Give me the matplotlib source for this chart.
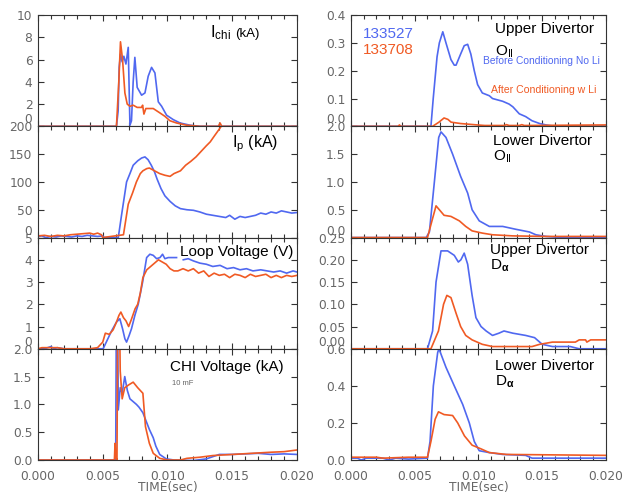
import matplotlib
matplotlib.use("Agg")
import matplotlib.pyplot as plt
from matplotlib.ticker import MultipleLocator
import numpy as np

plt.rcParams['font.family'] = ['Liberation Sans', 'DejaVu Sans']
plt.rcParams['mathtext.fontset'] = 'custom'
plt.rcParams['mathtext.rm'] = 'Liberation Sans'
plt.rcParams['mathtext.it'] = 'Liberation Sans'
plt.rcParams['mathtext.bf'] = 'Liberation Sans:bold'

BLUE = '#5068f0'
ORANGE = '#f05a24'
TICKC = '#666666'

# ---------------- data (time in ms) ----------------
ichi_b_t = [0, 6.06, 6.19, 6.27, 6.37, 6.5, 6.63, 6.79, 6.97, 7.10, 7.22, 7.35, 7.48, 7.66, 8.0, 8.26, 8.51, 8.77, 9.03, 9.29, 9.55, 9.93, 10.45, 10.97, 11.74, 12.5, 20]
ichi_b_v = [0, 0, 1.4, 5.3, 6.5, 5.8, 6.3, 5.6, 7.1, 0.1, 0.5, 4.0, 6.2, 3.5, 2.8, 3.0, 4.5, 5.3, 4.8, 2.2, 1.8, 1.0, 0.6, 0.3, 0.1, 0, 0]
ichi_o_t = [0, 6.06, 6.24, 6.37, 6.53, 6.71, 6.89, 7.1, 7.35, 7.66, 8.0, 8.08, 8.18, 8.33, 8.9, 9.42, 9.8, 10.19, 10.7, 11.48, 12.5, 13.93, 14.06, 14.19, 20]
ichi_o_v = [0, 0, 4.0, 7.6, 6.0, 3.0, 2.0, 1.8, 1.9, 1.7, 1.7, 1.9, 1.1, 1.6, 1.6, 1.2, 0.9, 0.5, 0.3, 0.1, 0, 0, 0.3, 0, 0]

ip_b_t = [0, 0.3, 0.6, 1.0, 1.4, 1.8, 2.2, 2.6, 3.0, 3.4, 3.8, 4.2, 4.6, 5.0, 5.1, 6.2, 6.45, 6.84, 7.1, 7.35, 7.7, 8.0, 8.26, 8.5, 8.75, 9.0, 9.2, 9.5, 9.8, 10.2, 10.6, 11.0, 11.5, 12.0, 12.5, 13.0, 13.5, 14.0, 14.5, 14.8, 15.2, 15.6, 16.0, 16.4, 16.8, 17.2, 17.6, 18.0, 18.4, 18.8, 19.2, 19.6, 20.0]
ip_b_v = [2, 3, 0, 2, 1, 3, 2, 1, 3, 2, 4, 3, 2, 3, 0, 0, 40, 100, 115, 130, 138, 143, 145, 140, 130, 118, 105, 88, 75, 65, 57, 52, 50, 49, 46, 42, 40, 38, 36, 40, 33, 38, 36, 38, 40, 44, 42, 46, 44, 48, 46, 44, 45]
ip_o_t = [0, 0.5, 1.0, 1.5, 2.0, 2.5, 3.0, 3.5, 4.0, 4.3, 4.6, 4.9, 5.0, 6.6, 6.97, 7.3, 7.6, 7.9, 8.1, 8.4, 8.6, 9.0, 9.4, 9.8, 10.2, 10.5, 11.0, 11.4, 11.8, 12.2, 12.6, 13.0, 13.3, 13.6, 14.0, 14.3, 15.0]
ip_o_v = [3, 4, 2, 4, 3, 5, 6, 7, 8, 6, 8, 5, 0, 5, 60, 80, 100, 115, 120, 124, 125, 120, 115, 112, 110, 115, 120, 130, 137, 145, 155, 165, 172, 182, 195, 205, 220]

lv_b_t = [0, 0.5, 1.0, 1.2, 1.5, 2.0, 4.9, 5.03, 5.68, 6.06, 6.32, 6.53, 6.71, 6.84, 7.04, 7.22, 7.48, 7.74, 8.08, 8.39, 8.64, 8.9, 9.16, 9.42, 9.62, 9.8, 10.06, 10.7, 10.8, 11.22, 11.6, 12.0, 12.5, 13.0, 13.5, 14.06, 14.6, 15.1, 15.6, 16.1, 16.6, 17.2, 17.7, 18.2, 18.7, 19.2, 19.7, 20.0]
lv_b_v = [0, 0, 0.1, 0, 0.05, 0, 0, 0, 0.8, 1.2, 1.35, 0.9, 0.45, 0.3, 0.6, 0.9, 1.5, 2.0, 3.0, 4.1, 4.25, 4.2, 4.05, 4.1, 4.25, 4.05, 4.1, 4.1, np.nan, 4.0, 4.05, 3.95, 3.85, 3.8, 3.7, 3.75, 3.6, 3.65, 3.55, 3.6, 3.5, 3.55, 3.5, 3.45, 3.5, 3.4, 3.5, 3.45]
lv_o_t = [0, 0.3, 1.5, 2.0, 4.0, 4.6, 5.0, 5.2, 5.5, 5.8, 6.06, 6.25, 6.4, 6.6, 6.8, 7.0, 7.2, 7.5, 7.7, 7.9, 8.1, 8.4, 8.7, 9.0, 9.3, 9.6, 9.9, 10.2, 10.5, 10.8, 11.2, 11.6, 12.0, 12.4, 12.8, 13.2, 13.6, 14.0, 14.4, 14.8, 15.2, 15.6, 16.0, 16.4, 16.8, 17.2, 17.6, 18.0, 18.4, 18.8, 19.2, 19.6, 20.0]
lv_o_v = [0, 0.05, 0.05, 0, 0, 0.05, 0.3, 0.7, 0.65, 0.85, 1.2, 1.5, 1.65, 1.4, 1.25, 1.0, 1.3, 1.8, 2.0, 2.5, 3.2, 3.55, 3.7, 3.85, 4.0, 3.9, 3.8, 3.6, 3.5, 3.5, 3.6, 3.5, 3.6, 3.4, 3.5, 3.25, 3.4, 3.3, 3.35, 3.2, 3.35, 3.3, 3.2, 3.35, 3.25, 3.3, 3.35, 3.2, 3.3, 3.2, 3.3, 3.25, 3.3]

chi_b_t = [0, 6.0, 6.05, 6.15, 6.2, 6.35, 6.5, 6.7, 6.9, 7.1, 7.35, 7.6, 7.8, 8.1, 8.35, 8.6, 8.9, 9.1, 9.4, 9.9, 10.5, 12.0, 13.0, 13.5, 14.0, 15.0, 16.0, 17.0, 18.0, 19.0, 20.0]
chi_b_v = [0, 0, 2.5, 2.5, 0.9, 1.3, 1.2, 1.5, 1.25, 1.1, 1.05, 1.0, 0.95, 0.85, 0.7, 0.55, 0.4, 0.25, 0.1, 0.02, 0, -0.01, 0.02, 0.06, 0.1, 0.1, 0.11, 0.12, 0.1, 0.11, 0.1]
chi_o_t = [0, 5.9, 5.95, 6.0, 6.1, 6.15, 6.3, 6.35, 6.5, 6.7, 7.0, 7.35, 7.7, 8.1, 8.3, 8.6, 8.9, 9.4, 10.0, 11.0, 11.5, 12.5, 13.5, 15.0, 16.5, 18.0, 19.0, 20.0]
chi_o_v = [0, 0, 0.3, 0.05, 0, 2.5, 2.5, 1.6, 1.1, 1.3, 1.35, 1.4, 1.3, 1.2, 0.6, 0.3, 0.12, 0.03, 0, 0, 0.03, 0.05, 0.08, 0.1, 0.12, 0.14, 0.15, 0.18]

uo_b_t = [0, 6.27, 6.45, 6.75, 6.93, 7.2, 7.45, 7.84, 8.1, 8.24, 8.6, 8.88, 9.15, 9.4, 9.67, 9.93, 10.3, 10.85, 11.1, 11.9, 12.4, 12.7, 13.2, 13.7, 14.2, 14.8, 15.3, 16.0, 20.0]
uo_b_v = [0, 0, 0.1, 0.25, 0.3, 0.34, 0.3, 0.24, 0.22, 0.22, 0.26, 0.29, 0.295, 0.26, 0.2, 0.15, 0.12, 0.11, 0.1, 0.09, 0.08, 0.07, 0.045, 0.035, 0.02, 0.01, 0.005, 0, 0]
uo_o_t = [0, 3.7, 3.8, 3.9, 6.4, 6.9, 7.3, 7.6, 7.85, 8.6, 9.9, 10.5, 12.0, 12.2, 12.4, 13.2, 13.4, 13.6, 20.0]
uo_o_v = [0, 0, 0.005, 0, 0, 0.015, 0.03, 0.025, 0.015, 0.01, 0.005, 0.003, 0.003, 0.006, 0.003, 0.003, 0.006, 0.003, 0.005]

lo_b_t = [0, 5.9, 6.15, 6.54, 6.88, 7.06, 7.45, 7.97, 8.6, 9.15, 9.5, 10.06, 10.85, 11.9, 12.9, 14.0, 14.5, 15.3, 16.6, 20.0]
lo_b_v = [0, 0, 0.1, 1.0, 1.8, 1.9, 1.8, 1.5, 1.1, 0.8, 0.5, 0.3, 0.2, 0.2, 0.15, 0.1, 0.05, 0.02, 0, 0]
lo_o_t = [0, 6.0, 6.35, 6.67, 6.93, 7.3, 7.84, 8.5, 9.0, 9.5, 10.3, 11.1, 12.7, 15.3, 20.0]
lo_o_v = [0, 0, 0.3, 0.57, 0.5, 0.4, 0.38, 0.3, 0.2, 0.12, 0.08, 0.05, 0.03, 0.02, 0.02]

ud_b_t = [0, 6.0, 6.4, 6.67, 7.06, 7.58, 8.1, 8.42, 8.62, 8.88, 9.15, 9.5, 9.8, 10.2, 10.6, 11.1, 11.6, 12.0, 12.7, 13.7, 14.4, 15.0, 15.8, 17.2, 17.9, 20.0]
ud_b_v = [0, 0, 0.04, 0.15, 0.22, 0.22, 0.21, 0.195, 0.2, 0.215, 0.19, 0.12, 0.07, 0.05, 0.04, 0.03, 0.035, 0.04, 0.035, 0.03, 0.025, 0.01, 0.005, 0.005, 0, 0]
ud_o_t = [0, 6.27, 6.86, 7.26, 7.52, 7.84, 8.24, 8.6, 9.0, 9.5, 10.3, 11.1, 14.2, 14.8, 15.8, 17.6, 17.9, 18.4, 18.5, 18.8, 20.0]
ud_o_v = [0, 0, 0.04, 0.1, 0.12, 0.115, 0.08, 0.05, 0.03, 0.02, 0.01, 0.005, 0.005, 0.01, 0.015, 0.015, 0.02, 0.02, 0.015, 0.02, 0.02]

ld_b_t = [0, 0.5, 0.8, 1.2, 2.5, 3.0, 3.5, 4.5, 6.0, 6.2, 6.46, 6.8, 6.9, 7.45, 8.1, 8.76, 9.28, 9.67, 10.06, 10.85, 11.9, 13.7, 14.2, 20.0]
ld_b_v = [0.01, 0.01, 0.0, 0.01, 0.01, 0.0, 0.01, 0.005, 0.01, 0.1, 0.4, 0.58, 0.6, 0.5, 0.4, 0.3, 0.2, 0.1, 0.05, 0.04, 0.03, 0.025, 0.01, 0.01]
ld_o_t = [0, 2.0, 2.5, 4.5, 6.0, 6.27, 6.6, 6.86, 7.3, 7.97, 8.37, 8.9, 9.5, 10.2, 10.85, 12.2, 20.0]
ld_o_v = [0.015, 0.015, 0.01, 0.015, 0.015, 0.1, 0.22, 0.26, 0.245, 0.24, 0.2, 0.13, 0.08, 0.06, 0.04, 0.03, 0.025]

xticks = [0.000, 0.005, 0.010, 0.015, 0.020]

fig = plt.figure(figsize=(6.26, 4.95), dpi=100)

H = 0.2247
B0 = 0.0707
lefts = [(0.0607, 0.4137), (0.5607, 0.4073)]

def ms(t):
    return np.asarray(t) * 1e-3

panels = [
    (0, 0, 10, 2, '%d', (ichi_b_t, ichi_b_v), (ichi_o_t, ichi_o_v)),
    (0, 1, 200, 50, '%d', (ip_b_t, ip_b_v), (ip_o_t, ip_o_v)),
    (0, 2, 5, 1, '%d', (lv_b_t, lv_b_v), (lv_o_t, lv_o_v)),
    (0, 3, 2.0, 0.5, '%.1f', (chi_b_t, chi_b_v), (chi_o_t, chi_o_v)),
    (1, 0, 0.4, 0.1, '%.1f', (uo_b_t, uo_b_v), (uo_o_t, uo_o_v)),
    (1, 1, 2.0, 0.5, '%.1f', (lo_b_t, lo_b_v), (lo_o_t, lo_o_v)),
    (1, 2, 0.25, 0.05, '%.2f', (ud_b_t, ud_b_v), (ud_o_t, ud_o_v)),
    (1, 3, 0.6, 0.2, '%.1f', (ld_b_t, ld_b_v), (ld_o_t, ld_o_v)),
]

TICKFONT = dict(family='DejaVu Sans', size=8.8)

axes = {}
for col, row, ymax, ymaj, fmt, blue, orange in panels:
    l, w = lefts[col]
    b = B0 + (3 - row) * H
    ax = fig.add_axes([l, b, w, H])
    axes[(col, row)] = ax
    ax.plot(ms(blue[0]), blue[1], color=BLUE, lw=1.2)
    ax.plot(ms(orange[0]), orange[1], color=ORANGE, lw=1.2)
    ax.set_xlim(0, 0.020)
    ax.set_ylim(0, ymax)
    yt = np.round(np.arange(0, ymax + ymaj / 2, ymaj), 6)
    ax.set_yticks(yt)
    ax.set_yticklabels([fmt % v for v in yt], **TICKFONT)
    ax.set_xticks(xticks)
    ax.xaxis.set_minor_locator(MultipleLocator(0.001))
    ax.tick_params(axis='both', which='both', direction='in', top=True, right=True,
                   colors='#333333', labelcolor=TICKC)
    ax.tick_params(axis='both', which='major', length=4, width=0.8)
    ax.tick_params(axis='both', which='minor', length=3, width=0.8)
    ax.tick_params(axis='y', pad=4)
    ax.tick_params(axis='x', pad=7)
    for s in ax.spines.values():
        s.set_color('#333333')
        s.set_linewidth(0.8)
    if row == 3:
        ax.set_xticklabels(['%.3f' % v for v in xticks], **TICKFONT)
        ax.set_xlabel('TIME(sec)', color=TICKC, fontsize=8.8, family='DejaVu Sans', labelpad=-1)
    else:
        ax.tick_params(axis='x', labelbottom=False)
        ax.yaxis.get_major_ticks()[0].label1.set_verticalalignment('bottom')

TS = 11
a = axes[(0, 0)]
a.text(0.664, 0.80, r'I$_{\mathrm{chi}}$', transform=a.transAxes, fontsize=12, va='baseline', ha='left')
a.text(0.76, 0.80, '(kA)', transform=a.transAxes, fontsize=9.5, va='baseline', ha='left')
a = axes[(0, 1)]
a.text(0.75, 0.815, r'I$_{\mathrm{p}}$ (kA)', transform=a.transAxes, fontsize=11.5, va='baseline', ha='left')
a = axes[(0, 2)]
a.text(0.548, 0.833, 'Loop Voltage (V)', transform=a.transAxes, fontsize=TS, va='baseline', ha='left')
a = axes[(0, 3)]
a.text(0.51, 0.80, 'CHI Voltage (kA)', transform=a.transAxes, fontsize=TS, va='baseline', ha='left')
a.text(0.517, 0.675, '10 mF', transform=a.transAxes, fontsize=5.5, color='#666666', va='baseline', ha='left')

a = axes[(1, 0)]
a.text(0.565, 0.838, 'Upper Divertor', transform=a.transAxes, fontsize=TS, va='baseline', ha='left')
a.text(0.565, 0.64, r'O$_{\mathrm{II}}$', transform=a.transAxes, fontsize=TS, va='baseline', ha='left')
a.text(0.047, 0.79, '133527', transform=a.transAxes, fontsize=11, color=BLUE, va='baseline', ha='left')
a.text(0.047, 0.65, '133708', transform=a.transAxes, fontsize=11, color=ORANGE, va='baseline', ha='left')
a.text(0.518, 0.56, 'Before Conditioning No Li', transform=a.transAxes, fontsize=7.4, color=BLUE, va='baseline', ha='left')
a.text(0.549, 0.30, 'After Conditioning w Li', transform=a.transAxes, fontsize=7.6, color=ORANGE, va='baseline', ha='left')

a = axes[(1, 1)]
a.text(0.557, 0.83, 'Lower Divertor', transform=a.transAxes, fontsize=TS, va='baseline', ha='left')
a.text(0.557, 0.696, r'O$_{\mathrm{II}}$', transform=a.transAxes, fontsize=TS, va='baseline', ha='left')
a = axes[(1, 2)]
a.text(0.545, 0.848, 'Upper Divertor', transform=a.transAxes, fontsize=TS, va='baseline', ha='left')
a.text(0.545, 0.714, r'D$_{\mathbf{\alpha}}$', transform=a.transAxes, fontsize=TS, va='baseline', ha='left')
a = axes[(1, 3)]
a.text(0.565, 0.81, 'Lower Divertor', transform=a.transAxes, fontsize=TS, va='baseline', ha='left')
a.text(0.565, 0.67, r'D$_{\mathbf{\alpha}}$', transform=a.transAxes, fontsize=TS, va='baseline', ha='left')

fig.savefig('out.png', dpi=100)
